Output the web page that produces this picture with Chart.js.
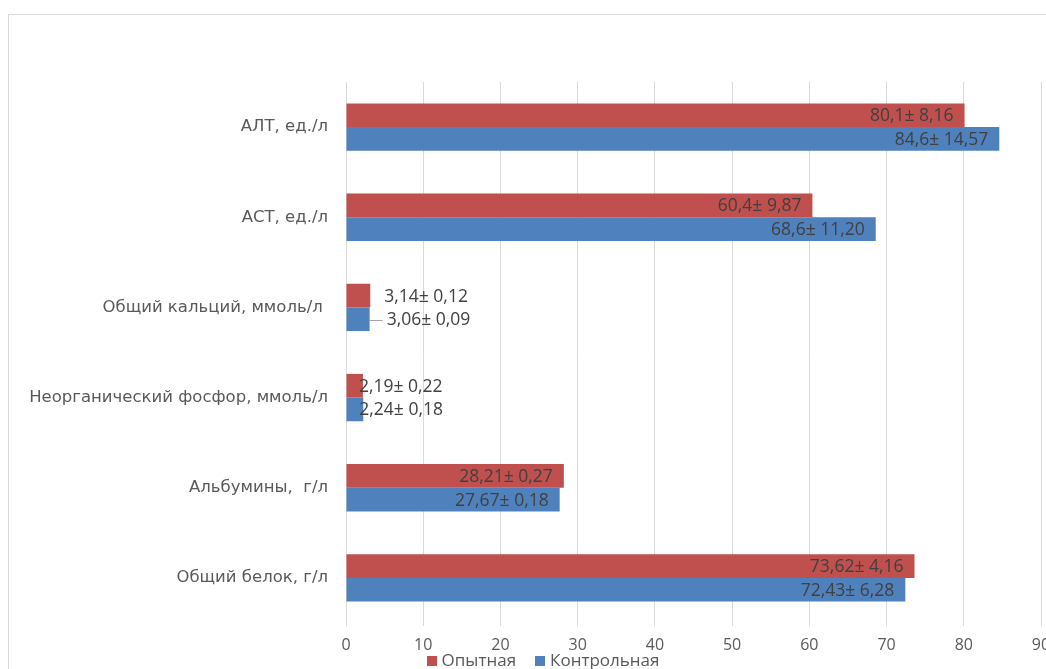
<!DOCTYPE html>
<html lang="ru">
<head>
<meta charset="utf-8">
<title>Биохимические показатели крови</title>
<script src="https://cdn.jsdelivr.net/npm/chart.js@4.4.1/dist/chart.umd.min.js"></script>
<style>
  html, body { margin: 0; padding: 0; background: #ffffff; }
  #wrap { width: 1046px; height: 669px; position: relative; }
</style>
</head>
<body>
<div id="wrap"><canvas id="chart" width="1046" height="669"></canvas></div>
<script>
// Показатели (сверху вниз)
const categories = [
  'АЛТ, ед./л',
  'АСТ, ед./л',
  'Общий кальций, ммоль/л ',
  'Неорганический фосфор, ммоль/л',
  'Альбумины,  г/л',
  'Общий белок, г/л'
];

// Опытная группа: среднее и ошибка среднего
const experimentalMeans = [80.1, 60.4, 3.14, 2.19, 28.21, 73.62];
const experimentalErrors = [8.16, 9.87, 0.12, 0.22, 0.27, 4.16];

// Контрольная группа: среднее и ошибка среднего
const controlMeans = [84.6, 68.6, 3.06, 2.24, 27.67, 72.43];
const controlErrors = [14.57, 11.20, 0.09, 0.18, 0.18, 6.28];

// Шкала значений
const axisMin = 0;
const axisMax = 90;
const axisStep = 10;

const seriesNames = ['Опытная', 'Контрольная'];
const seriesColors = ['#C0504D', '#4F81BD'];
const errorSets = [experimentalErrors, controlErrors];

const FONT = '"Open Sans", "Noto Sans", sans-serif';
const CAT_FONT = '"DejaVu Sans", Verdana, sans-serif';

function fmtMean(v) { return String(v).replace('.', ','); }
function fmtErr(v) { return v.toFixed(2).replace('.', ','); }

// Рамка области диаграммы
const frame = {
  id: 'frame',
  beforeDraw(chart) {
    const ctx = chart.ctx;
    ctx.save();
    ctx.strokeStyle = '#d9d9d9';
    ctx.lineWidth = 1;
    ctx.strokeRect(8.5, 14.5, 1200, 800);
    ctx.restore();
  }
};

// Подписи значений «среднее ± ошибка»
const valueLabels = {
  id: 'valueLabels',
  afterDatasetsDraw(chart) {
    const ctx = chart.ctx;
    ctx.save();
    ctx.font = '17.5px ' + FONT;
    ctx.fillStyle = '#404040';
    ctx.textBaseline = 'middle';
    // сдвиги подписей для коротких столбиков: [категория] -> [опытная, контрольная]
    const outside = { 2: [14, 17], 3: [-4, -4] };
    chart.data.datasets.forEach((ds, di) => {
      const meta = chart.getDatasetMeta(di);
      meta.data.forEach((bar, i) => {
        const text = fmtMean(ds.data[i]) + '± ' + fmtErr(errorSets[di][i]);
        const y = bar.y + 1;
        if (outside[i]) {
          const x = bar.x + outside[i][di];
          ctx.textAlign = 'left';
          ctx.fillText(text, x, y);
          if (i === 2 && di === 1) {
            ctx.strokeStyle = '#a6a6a6';
            ctx.lineWidth = 1;
            ctx.beginPath();
            ctx.moveTo(bar.x, Math.round(y) + 0.5);
            ctx.lineTo(x - 4, Math.round(y) + 0.5);
            ctx.stroke();
          }
        } else {
          ctx.textAlign = 'right';
          ctx.fillText(text, bar.x - 11, y);
        }
      });
    });
    ctx.restore();
  }
};

// Легенда внизу
const bottomLegend = {
  id: 'bottomLegend',
  afterDraw(chart) {
    const ctx = chart.ctx;
    ctx.save();
    ctx.font = '17px ' + FONT;
    ctx.textBaseline = 'middle';
    ctx.textAlign = 'left';
    const box = 10, gap = 5, itemGap = 19;
    const items = chart.data.datasets.map(ds => ({
      label: ds.label, color: ds.backgroundColor, w: ctx.measureText(ds.label).width
    }));
    const total = items.reduce((s, it) => s + box + gap + it.w, 0) + itemGap * (items.length - 1);
    let x = 543 - total / 2;
    const cy = 661;
    items.forEach(it => {
      ctx.fillStyle = it.color;
      ctx.fillRect(Math.round(x), cy - 5, box, box);
      ctx.fillStyle = '#595959';
      ctx.fillText(it.label, x + box + gap, cy);
      x += box + gap + it.w + itemGap;
    });
    ctx.restore();
  }
};

new Chart(document.getElementById('chart'), {
  type: 'bar',
  data: {
    labels: categories,
    datasets: [
      { label: seriesNames[0], data: experimentalMeans, backgroundColor: seriesColors[0] },
      { label: seriesNames[1], data: controlMeans, backgroundColor: seriesColors[1] }
    ]
  },
  options: {
    indexAxis: 'y',
    responsive: false,
    animation: false,
    events: [],
    categoryPercentage: 0.525,
    barPercentage: 1.0,
    layout: { padding: { top: 82, right: 5, bottom: 0, left: 0 } },
    plugins: {
      legend: { display: false },
      tooltip: { enabled: false }
    },
    scales: {
      x: {
        min: axisMin,
        max: axisMax,
        ticks: {
          stepSize: axisStep,
          color: '#595959',
          font: { family: FONT, size: 16 },
          padding: 10
        },
        grid: { color: '#d9d9d9', lineWidth: 1, tickLength: 3 },
        border: { display: false },
        afterFit(scale) {
          scale.height = 46;
          scale.paddingLeft = 0;
          scale.paddingRight = 0;
        }
      },
      y: {
        ticks: {
          color: '#595959',
          font: { family: CAT_FONT, size: 16.5 },
          padding: 18
        },
        grid: { display: false, drawTicks: false },
        border: { display: true, color: '#d9d9d9' },
        afterFit(scale) {
          scale.width = 346;
          scale.paddingTop = 0;
          scale.paddingBottom = 0;
        }
      }
    }
  },
  plugins: [frame, valueLabels, bottomLegend]
});
</script>
</body>
</html>
